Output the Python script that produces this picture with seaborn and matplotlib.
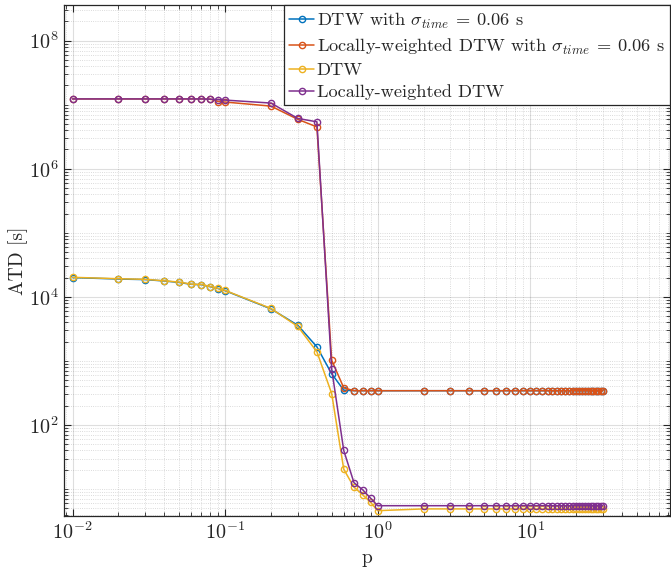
import numpy as np
import pandas as pd
import matplotlib
matplotlib.use("Agg")
import matplotlib.pyplot as plt
import seaborn as sns
from matplotlib.ticker import LogLocator, NullFormatter

p = [0.01, 0.02, 0.03, 0.04, 0.05, 0.06, 0.07, 0.08, 0.09, 0.1,
     0.2, 0.3, 0.4, 0.5, 0.6, 0.7, 0.8, 0.9,
     1, 2, 3, 4, 5, 6, 7, 8, 9, 10, 11, 12, 13, 14, 15, 16, 17, 18, 19, 20,
     21, 22, 23, 24, 25, 26, 27, 28, 29, 30]

dtw_sigma = [2.0e4, 1.9e4, 1.86e4, 1.77e4, 1.68e4, 1.57e4, 1.55e4, 1.44e4, 1.35e4, 1.25e4,
             6500, 3600, 1660, 630, 350, 343, 343, 343,
             343, 343, 343, 343, 343, 343, 343, 343, 343, 343, 343, 343, 343, 343, 343, 343,
             343, 343, 343, 343, 343, 343, 343, 343, 343, 343, 343, 343, 343, 343]

lw_sigma = [1.23e7, 1.23e7, 1.23e7, 1.23e7, 1.23e7, 1.23e7, 1.23e7, 1.22e7, 1.12e7, 1.1e7,
            9.5e6, 5.9e6, 4.5e6, 1030, 380, 343, 343, 343,
            343, 343, 343, 343, 343, 343, 343, 343, 343, 343, 343, 343, 343, 343, 343, 343,
            343, 343, 343, 343, 343, 343, 343, 343, 343, 343, 343, 343, 343, 343]

dtw = [2.02e4, 1.92e4, 1.88e4, 1.78e4, 1.7e4, 1.58e4, 1.56e4, 1.45e4, 1.36e4, 1.26e4,
       6600, 3450, 1390, 310, 20.4, 10.7, 8.1, 6.2,
       4.6, 4.9, 4.9, 4.9, 4.9, 4.9, 4.9, 4.9, 4.9, 4.9, 4.9, 4.9, 4.9, 4.9, 4.9, 4.9,
       4.9, 4.9, 4.9, 4.9, 4.9, 4.9, 4.9, 4.9, 4.9, 4.9, 4.9, 4.9, 4.9, 4.9]

lw = [1.23e7, 1.23e7, 1.23e7, 1.23e7, 1.23e7, 1.23e7, 1.23e7, 1.22e7, 1.2e7, 1.18e7,
      1.06e7, 6.1e6, 5.4e6, 750, 40, 12.6, 9.7, 7.2,
      5.5, 5.5, 5.5, 5.5, 5.5, 5.5, 5.5, 5.5, 5.5, 5.5, 5.5, 5.5, 5.5, 5.5, 5.5, 5.5,
      5.5, 5.5, 5.5, 5.5, 5.5, 5.5, 5.5, 5.5, 5.5, 5.5, 5.5, 5.5, 5.5, 5.5]

labels = [r"DTW with $\sigma_{time}\:=\:0.06$ s",
          r"Locally-weighted DTW with $\sigma_{time}\:=\:0.06$ s",
          "DTW",
          "Locally-weighted DTW"]
colors = ["#0072BD", "#D95319", "#EDB120", "#7E2F8E"]
series = [dtw_sigma, lw_sigma, dtw, lw]

sns.set_theme(style="ticks")
plt.rcParams.update({
    "font.family": "serif",
    "font.serif": ["cmr10"],
    "mathtext.fontset": "cm",
    "axes.unicode_minus": False,
    "axes.formatter.use_mathtext": True,
})

fig = plt.figure(figsize=(6.71, 5.73), dpi=100)
ax = fig.add_axes([0.0958, 0.0995, 0.9027, 0.8918])

for vals, lab, col in zip(series, labels, colors):
    df = pd.DataFrame({"p": p, "ATD": vals})
    sns.lineplot(data=df, x="p", y="ATD", ax=ax, color=col, label=lab,
                 marker="o", markersize=4.5, markerfacecolor="none",
                 markeredgecolor=col, markeredgewidth=1.0, linewidth=1.1,
                 errorbar=None, sort=True)

ax.set_xscale("log")
ax.set_yscale("log")
ax.set_xlim(0.00883, 82.6)
ax.set_ylim(3.8, 3.6e8)

ax.yaxis.set_major_locator(LogLocator(base=100, numticks=10))
ax.yaxis.set_minor_locator(LogLocator(base=10, subs=np.arange(1, 10), numticks=30))
ax.yaxis.set_minor_formatter(NullFormatter())
ax.xaxis.set_major_locator(LogLocator(base=10, numticks=10))
ax.xaxis.set_minor_locator(LogLocator(base=10, subs=np.arange(2, 10), numticks=30))
ax.xaxis.set_minor_formatter(NullFormatter())

ax.grid(True, which="major", color="#262626", alpha=0.15, linewidth=0.8, linestyle="-")
ax.grid(True, which="minor", color="#262626", alpha=0.22, linewidth=0.6, linestyle=":")
ax.set_axisbelow(True)

ax.tick_params(which="both", direction="in", top=True, right=True, colors="#262626",
               labelsize=14.5)
ax.tick_params(which="major", length=5, width=0.8, pad=4)
ax.tick_params(which="minor", length=3, width=0.6)
for s in ax.spines.values():
    s.set_color("#262626")
    s.set_linewidth(0.9)

ax.set_xlabel("p", fontsize=14, color="#262626", labelpad=4)
ax.set_ylabel("ATD [s]", fontsize=14, color="#262626", labelpad=1)

leg = ax.legend(loc="upper right", fontsize=13.2, frameon=True, fancybox=False,
                edgecolor="#262626", framealpha=1.0, borderaxespad=0.0,
                handlelength=1.35, handletextpad=0.15, labelspacing=0.32,
                borderpad=0.3)
leg.get_frame().set_linewidth(0.9)

fig.savefig("out.png", dpi=100)
